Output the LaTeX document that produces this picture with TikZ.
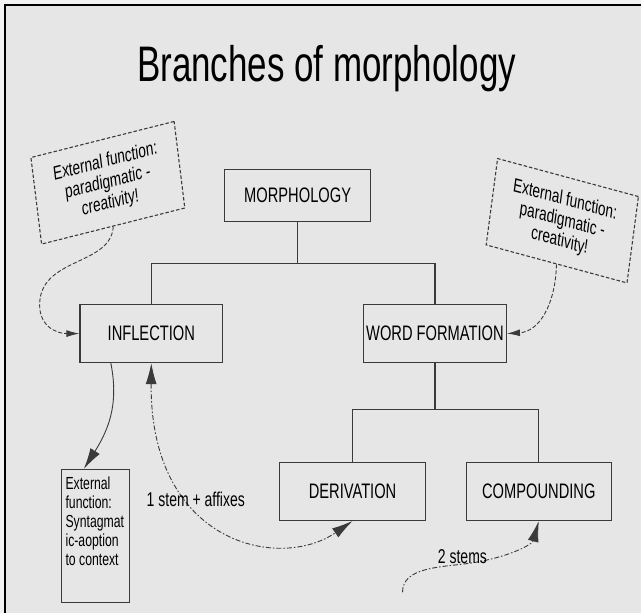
\documentclass[tikz,border=0pt]{standalone}
\usepackage{fontspec}
\setmainfont{Liberation Sans}
\newfontfamily\condfont[FakeStretch=0.7]{Liberation Sans}
\usetikzlibrary{arrows.meta}
\definecolor{bg}{HTML}{E6E6E6}
\definecolor{margin}{HTML}{F2F2F2}
\definecolor{ink}{HTML}{3A3A3A}
\begin{document}
\begin{tikzpicture}[x=1pt,y=-1pt,
  box/.style={draw=ink, line width=1.2pt, inner sep=0pt,
    font=\condfont\fontsize{21}{25}\selectfont},
  treeline/.style={draw=ink, line width=1.2pt},
  callout/.style={draw=ink, line width=1.1pt, dash pattern=on 3.5pt off 2pt,
    align=center, inner sep=0pt, font=\fontsize{19.5}{21}\selectfont},
  link/.style={draw=ink, line width=0.9pt, dash pattern=on 5pt off 2pt on 1.5pt off 2pt},
  dlink/.style={draw=ink, line width=0.9pt, dash pattern=on 4pt off 2pt},
  headone/.style={-{Latex[length=21pt,width=11pt]}},
  headtwo/.style={{Latex[length=21pt,width=11pt]}-{Latex[length=21pt,width=11pt]}},
  smallhead/.style={-{Latex[length=13pt,width=7pt]}},
  lbl/.style={inner sep=0pt, font=\condfont\fontsize{20}{24}\selectfont}]

% page and frame
\fill[margin] (0,0) rectangle (642,614);
\fill[bg] (5,5) rectangle (642,614);
\draw[black, line width=1.6pt] (5,614) -- (5,5) -- (642,5);
\useasboundingbox (0,0) rectangle (642,614);

% heading
\node[anchor=base, inner sep=0pt, font=\condfont\fontsize{50}{50}\selectfont] (title) at (327,82) {Branches of morphology};

% tree
\node[box, minimum width=146pt, minimum height=52pt] (morph) at (298,196) {MORPHOLOGY};
\node[box, minimum width=143pt, minimum height=58pt] (infl) at (151.5,334) {INFLECTION};
\node[box, minimum width=143pt, minimum height=58pt] (wf) at (435.5,334) {WORD FORMATION};
\node[box, minimum width=146pt, minimum height=58pt] (deriv) at (353,492) {DERIVATION};
\node[box, minimum width=145pt, minimum height=58pt] (comp) at (539.5,492) {COMPOUNDING};

\coordinate (j1) at (298,264);
\coordinate (j2) at (435.5,410);
\draw[treeline] (morph.south) -- (j1);
\draw[treeline] (infl.north) |- (j1) -| (wf.north);
\draw[treeline] (wf.south) -- (j2);
\draw[treeline] (deriv.north) |- (j2) -| (comp.north);

% tilted notes
\begin{scope}[shift={(108,183)}, xscale=0.7, transform shape]
  \node[callout, rotate=10, minimum width=208pt, minimum height=88pt] (lnote) at (0,0)
    {External function:\\paradigmatic -\\creativity!};
\end{scope}
\begin{scope}[shift={(563,221)}, xscale=0.7, transform shape]
  \node[callout, rotate=-10.7, minimum width=205pt, minimum height=88pt] (rnote) at (0,0)
    {External function:\\paradigmatic -\\creativity!};
\end{scope}

% syntagmatic note
\node[draw=ink, line width=1.1pt, minimum width=68pt, minimum height=133pt, inner sep=0pt] (ext) at (96,536.5) {};
\node[anchor=north west, align=left, inner sep=0pt, font=\condfont\fontsize{17.5}{19}\selectfont] (exttext)
  at ([xshift=4pt,yshift=-8pt]ext.north west)
  {External\\function:\\Syntagmat\\ic-aoption\\to context};

% connectors
\draw[dlink, smallhead] (lnote.south) .. controls (111,265) and (45,258) .. (40,300)
  .. controls (37,325) and (55,334) .. (infl.west);
\draw[dlink, smallhead] (rnote.south) .. controls (556,305) and (540,332) .. (wf.east);
\draw[draw=ink, line width=0.9pt, headone] ([xshift=-40.5pt]infl.south) .. controls (118,400) and (112,425) .. ([xshift=-12pt]ext.north);
\draw[link, headtwo] (infl.south) .. controls (150,545) and (280,572) .. (deriv.south);

\coordinate (stemsstart) at (403,593);
\draw[link, headone] (stemsstart) .. controls (403,568) and (440,568) .. (470,564)
  .. controls (510,558) and (533,545) .. (comp.south);

% labels
\node[lbl] (affix) at (196,500) {1 stem + affixes};
\node[lbl] (stems) at (463,557) {2 stems};

\end{tikzpicture}
\end{document}
